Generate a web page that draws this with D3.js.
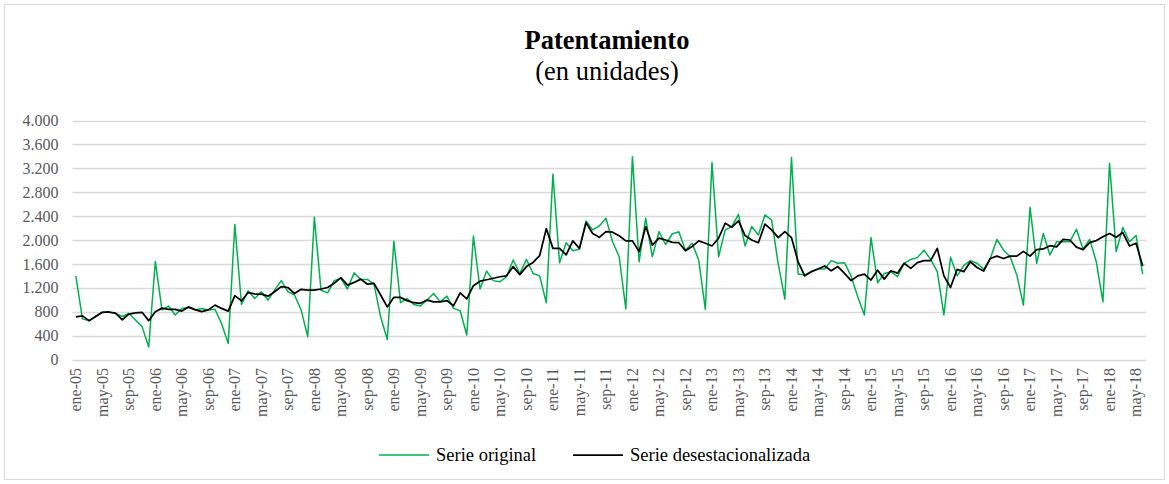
<html>
<head>
<meta charset="utf-8">
<style type="text/css">
  body { margin: 0; background: #fff; }
  .grid line { stroke: #d9d9d9; stroke-width: 1.5px; }
  .axis text { font-family: "Liberation Serif", "Times New Roman", serif; font-size: 16px; fill: #595959; }
  .legend text { font-family: "Liberation Serif", "Times New Roman", serif; font-size: 18.5px; fill: #000; }
</style>
</head>
<body>
<svg id="chart" width="1169" height="484"></svg>
<script src="https://cdn.jsdelivr.net/npm/d3@7/dist/d3.min.js"></script>
<script>
  var svg = d3.select("#chart"),
    width = +svg.attr("width"),
    height = +svg.attr("height");

  // DATA
  var monthNames = ["ene", "feb", "mar", "abr", "may", "jun", "jul", "ago", "sep", "oct", "nov", "dic"];
  var years = ["05", "06", "07", "08", "09", "10", "11", "12", "13", "14", "15", "16", "17", "18"];
  var lastMonth = 5; // jun-18

  var yTicks = [0, 400, 800, 1200, 1600, 2000, 2400, 2800, 3200, 3600, 4000];

  var serieOriginal = [
    1400, 680, 650, 720, 790, 790, 770, 720, 770, 660, 550, 210,
    1640, 830, 895, 745, 855, 870, 830, 855, 830, 840, 600, 270,
    2260, 920, 1150, 1020, 1135, 995, 1160, 1320, 1135, 1080, 830, 380,
    2380, 1160, 1115, 1320, 1360, 1180, 1450, 1340, 1340, 1260, 715, 335,
    1980, 950, 1020, 920, 895, 995, 1105, 965, 1060, 855, 815, 410,
    2065, 1180, 1480, 1320, 1300, 1385, 1665, 1440, 1675, 1440, 1400, 950,
    3105, 1620, 1955, 1820, 1845, 2320, 2170, 2235, 2365, 1970, 1720, 845,
    3395, 1635, 2365, 1720, 2140, 1925, 2100, 2140, 1830, 1945, 1665, 840,
    3295, 1720, 2170, 2225, 2430, 1900, 2225, 2085, 2420, 2335, 1600, 1010,
    3380, 1430, 1415, 1470, 1515, 1515, 1655, 1610, 1620, 1395, 1050, 745,
    2040, 1285, 1440, 1470, 1385, 1610, 1675, 1705, 1830, 1675, 1470, 745,
    1710, 1400, 1570, 1655, 1610, 1510, 1690, 2010, 1830, 1720, 1415, 910,
    2550, 1610, 2110, 1750, 1970, 1970, 1970, 2180, 1845, 2010, 1635, 965,
    3285, 1805, 2210, 1970, 2075, 1430
  ];

  var serieDesest = [
    715, 730, 650, 720, 790, 795, 775, 665, 760, 780, 790, 650,
    800, 860, 840, 840, 810, 880, 835, 800, 830, 910, 855, 810,
    1070, 980, 1120, 1100, 1095, 1060, 1135, 1220, 1205, 1105, 1175, 1160,
    1160, 1180, 1205, 1275, 1370, 1245, 1290, 1345, 1260, 1275, 1080, 880,
    1040, 1040, 985, 950, 940, 995, 965, 965, 985, 900, 1115, 1015,
    1235, 1310, 1335, 1360, 1385, 1400, 1555, 1420, 1555, 1625, 1740, 2190,
    1860, 1860, 1750, 1985, 1860, 2290, 2110, 2045, 2140, 2130, 2070, 1985,
    1985, 1805, 2225, 1915, 2030, 2000, 1960, 1955, 1820, 1890, 1985, 1945,
    1900, 2030, 2280, 2215, 2320, 2075, 2000, 1955, 2265, 2170, 2040, 2140,
    2040, 1635, 1400, 1470, 1515, 1565, 1485, 1555, 1440, 1320, 1400, 1430,
    1330, 1495, 1345, 1485, 1445, 1610, 1525, 1620, 1655, 1655, 1860, 1400,
    1205, 1510, 1470, 1635, 1540, 1480, 1690, 1730, 1690, 1730, 1730, 1810,
    1730, 1840, 1850, 1905, 1885, 2010, 2000, 1880, 1840, 1955, 1990, 2055,
    2110, 2045, 2125, 1900, 1945, 1565
  ];

  // categories ene-05 ... jun-18
  var categories = [];
  years.forEach(function(yy, yi) {
    monthNames.forEach(function(m, mi) {
      if (yi < years.length - 1 || mi <= lastMonth) categories.push(m + "-" + yy);
    });
  });
  var tickLabels = categories.filter(function(d, i) { return i % 4 == 0; });

  // frame
  svg.append("rect")
    .attr("x", 4.5).attr("y", 4.5)
    .attr("width", 1160).attr("height", 475)
    .attr("fill", "#fff")
    .attr("stroke", "#d9d9d9")
    .attr("stroke-width", 1);

  // scales
  var x = d3.scaleBand()
    .domain(categories)
    .range([72.5, 1146])
    .paddingInner(0).paddingOuter(0);

  var y = d3.scaleLinear()
    .domain([0, 4000])
    .range([359.5, 120.5]);

  function cx(d) { return x(d) + x.bandwidth() / 2; }

  // title
  svg.append("text")
    .attr("x", 607).attr("y", 49)
    .attr("text-anchor", "middle")
    .style("font-family", "'Liberation Serif', 'Times New Roman', serif")
    .style("font-size", "26.5px")
    .style("font-weight", "bold")
    .text("Patentamiento");

  svg.append("text")
    .attr("x", 607).attr("y", 80)
    .attr("text-anchor", "middle")
    .style("font-family", "'Liberation Serif', 'Times New Roman', serif")
    .style("font-size", "26.5px")
    .text("(en unidades)");

  // gridlines
  svg.append("g")
    .attr("class", "grid")
    .selectAll("line")
    .data(yTicks)
    .enter()
    .append("line")
    .attr("x1", 72.5).attr("x2", 1146)
    .attr("y1", function(d) { return Math.round(y(d)) + 0.5; })
    .attr("y2", function(d) { return Math.round(y(d)) + 0.5; });

  // y axis
  var yAxis = d3.axisLeft(y)
    .tickValues(yTicks)
    .tickSize(0)
    .tickPadding(14)
    .tickFormat(function(d) { return d3.format(",")(d).replace(/,/g, "."); });

  svg.append("g")
    .attr("class", "axis")
    .attr("transform", "translate(72.5,0)")
    .call(yAxis)
    .call(function(g) { g.select(".domain").remove(); });

  // x axis
  var xAxis = d3.axisBottom(x)
    .tickValues(tickLabels)
    .tickSize(0)
    .tickPadding(0);

  var gx = svg.append("g")
    .attr("class", "axis")
    .attr("transform", "translate(0,360)")
    .call(xAxis);
  gx.select(".domain").remove();
  gx.selectAll("text")
    .attr("y", 0).attr("dy", "0.33em")
    .attr("x", -8)
    .attr("transform", "rotate(-90)")
    .style("text-anchor", "end");

  // lines
  var line = d3.line()
    .x(function(d, i) { return cx(categories[i]); })
    .y(function(d) { return y(d); });

  svg.append("path")
    .datum(serieOriginal)
    .attr("fill", "none")
    .attr("stroke", "#00b050")
    .attr("stroke-width", 1.5)
    .attr("stroke-linejoin", "round")
    .attr("d", line);

  svg.append("path")
    .datum(serieDesest)
    .attr("fill", "none")
    .attr("stroke", "#000")
    .attr("stroke-width", 1.75)
    .attr("stroke-linejoin", "round")
    .attr("d", line);

  // legend
  var legendItems = [
    { name: "Serie original", color: "#00b050", x: 379 },
    { name: "Serie desestacionalizada", color: "#000", x: 573 }
  ];
  var legend = svg.append("g").attr("class", "legend");
  var li = legend.selectAll("g")
    .data(legendItems)
    .enter()
    .append("g")
    .attr("transform", function(d) { return "translate(" + d.x + ",455)"; });
  li.append("line")
    .attr("x1", 0).attr("x2", 50)
    .attr("stroke", function(d) { return d.color; })
    .attr("stroke-width", function(d) { return d.color == "#000" ? 1.75 : 1.5; });
  li.append("text")
    .attr("x", 57).attr("dy", "0.32em")
    .text(function(d) { return d.name; });
</script>
</body>
</html>
